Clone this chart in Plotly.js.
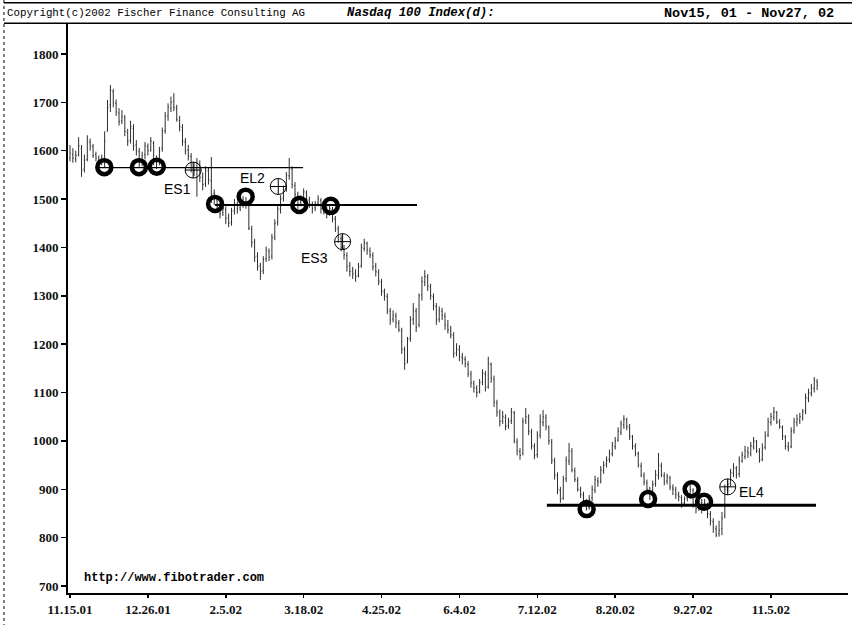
<!DOCTYPE html>
<html>
<head>
<meta charset="utf-8">
<script src="https://cdn.plot.ly/plotly-3.0.1.min.js"></script>
<style>html,body{margin:0;padding:0;background:#fff;}#chart{width:852px;height:625px;}</style>
</head>
<body>
<div id="chart"></div>
<script>
// Tick labels (one every 27 trading days)
const tickIdx = [0, 27, 54, 81, 108, 135, 162, 189, 216, 243];
const tickText = ['11.15.01','12.26.01','2.5.02','3.18.02','4.25.02','6.4.02','7.12.02','8.20.02','9.27.02','11.5.02'];
const yTicks = [700, 800, 900, 1000, 1100, 1200, 1300, 1400, 1500, 1600, 1700, 1800];

// Daily Nasdaq 100 bars, Nov 15 2001 - Nov 27 2002
const openP = [
1585,1592,1583,1592,1605,1562,1582,1618,1608,1592,
1583,1576,1585,1640,1695,1722,1698,1678,1662,1668,
1638,1622,1646,1612,1598,1578,1592,1608,1602,1615,
1582,1578,1605,1642,1672,1688,1702,1688,1662,1648,
1618,1602,1588,1566,1562,1572,1546,1532,1558,1538,
1512,1498,1487,1472,1478,1462,1452,1477,1488,1482,
1498,1488,1492,1438,1412,1382,1362,1352,1377,1392,
1382,1422,1452,1478,1502,1522,1548,1562,1528,1508,
1492,1502,1512,1498,1488,1482,1492,1498,1478,1483,
1472,1478,1458,1438,1418,1398,1383,1362,1352,1347,
1342,1362,1398,1408,1393,1383,1362,1348,1328,1308,
1298,1268,1252,1258,1243,1228,1188,1165,1212,1252,
1268,1240,1302,1328,1338,1318,1298,1278,1252,1268,
1258,1238,1228,1218,1182,1188,1173,1168,1158,1138,
1118,1108,1102,1122,1138,1112,1158,1128,1078,1058,
1042,1048,1032,1042,1058,998,978,975,1042,1048,
1018,988,972,1012,1038,1048,1028,998,958,928,
898,882,922,958,978,938,918,898,888,873,
862,882,898,918,917,938,952,962,973,988,
1002,1018,1033,1043,1028,1008,988,973,948,928,
913,898,892,912,928,948,928,917,923,903,
898,888,883,872,882,888,898,868,862,873,
862,868,848,833,818,808,818,845,898,912,
933,943,932,958,968,978,973,988,998,978,
962,987,1012,1038,1048,1058,1038,1028,1008,988,
988,1022,1038,1043,1048,1062,1088,1098,1108,1122];
const highP = [
1612,1605,1600,1628,1612,1592,1632,1625,1614,1598,
1590,1592,1640,1705,1736,1728,1706,1688,1684,1674,
1645,1662,1655,1622,1606,1598,1618,1615,1628,1620,
1590,1608,1648,1680,1698,1712,1719,1695,1672,1655,
1626,1612,1595,1575,1585,1580,1555,1568,1565,1587,
1520,1505,1492,1490,1485,1470,1482,1500,1495,1512,
1506,1504,1496,1445,1418,1390,1368,1382,1402,1398,
1428,1458,1488,1508,1528,1556,1585,1568,1535,1515,
1508,1522,1518,1505,1495,1496,1508,1502,1492,1490,
1488,1484,1465,1445,1425,1405,1390,1370,1360,1355,
1368,1408,1418,1412,1400,1390,1368,1355,1335,1315,
1305,1275,1270,1265,1250,1234,1195,1215,1258,1285,
1275,1305,1340,1353,1345,1325,1305,1285,1278,1275,
1265,1250,1238,1225,1202,1198,1182,1175,1165,1145,
1125,1115,1128,1148,1145,1174,1162,1135,1085,1065,
1062,1055,1048,1068,1062,1005,985,1048,1068,1055,
1025,995,1020,1055,1064,1055,1032,1004,965,935,
905,928,968,996,985,945,925,905,895,880,
888,908,928,925,948,958,968,982,998,1008,
1028,1042,1053,1048,1035,1012,995,978,955,935,
920,905,918,940,975,955,935,932,928,910,
905,895,888,885,898,910,902,875,882,880,
880,872,855,840,825,835,853,910,918,942,
954,948,968,978,990,988,998,1008,1002,985,
995,1020,1048,1058,1070,1062,1045,1032,1012,998,
1028,1048,1055,1058,1066,1098,1108,1118,1132,1128];
const lowP = [
1578,1575,1576,1588,1546,1555,1578,1600,1585,1578,
1565,1570,1566,1640,1680,1690,1672,1652,1655,1630,
1610,1615,1600,1590,1566,1568,1582,1590,1598,1570,
1562,1570,1598,1635,1662,1680,1682,1660,1640,1610,
1592,1580,1555,1548,1505,1535,1518,1525,1530,1492,
1488,1478,1460,1465,1448,1442,1445,1468,1470,1475,
1482,1480,1436,1400,1370,1352,1333,1345,1370,1372,
1375,1415,1445,1470,1495,1515,1540,1522,1500,1480,
1485,1492,1495,1482,1470,1475,1485,1470,1468,1460,
1465,1452,1432,1410,1392,1375,1350,1340,1335,1329,
1338,1358,1392,1385,1378,1352,1340,1322,1300,1290,
1262,1240,1245,1233,1225,1180,1147,1160,1205,1240,
1225,1235,1290,1320,1310,1292,1270,1240,1245,1250,
1230,1222,1212,1172,1175,1165,1158,1152,1132,1110,
1100,1090,1098,1115,1102,1108,1120,1070,1050,1030,
1035,1022,1025,1035,995,970,961,970,1035,1012,
982,962,965,1005,1030,1022,992,952,920,890,
872,878,915,950,935,915,895,882,868,856,
858,875,892,905,912,932,945,955,968,982,
998,1012,1025,1022,1002,982,968,945,925,908,
892,878,888,905,920,925,908,910,898,888,
880,875,862,866,875,880,862,850,855,850,
855,840,825,810,801,802,805,840,895,905,
925,922,925,955,962,965,968,982,975,955,
958,982,1008,1032,1042,1035,1025,1002,982,978,
985,1015,1030,1035,1042,1055,1080,1092,1100,1105];
const closeP = [
1595,1585,1590,1610,1560,1580,1620,1610,1590,1585,
1575,1580,1620,1690,1725,1700,1680,1660,1670,1640,
1620,1650,1610,1600,1575,1590,1610,1600,1620,1580,
1575,1600,1640,1670,1690,1700,1690,1665,1650,1620,
1600,1590,1565,1560,1575,1545,1530,1560,1540,1510,
1500,1485,1470,1480,1460,1450,1475,1490,1480,1500,
1490,1495,1440,1410,1380,1360,1350,1375,1395,1380,
1420,1450,1480,1500,1520,1550,1565,1530,1510,1490,
1500,1515,1500,1490,1480,1490,1500,1480,1485,1470,
1480,1460,1440,1420,1400,1385,1360,1350,1345,1340,
1360,1400,1410,1395,1385,1360,1350,1330,1310,1300,
1270,1250,1260,1245,1230,1190,1160,1210,1250,1270,
1235,1300,1330,1340,1320,1300,1280,1250,1270,1260,
1240,1230,1220,1180,1190,1175,1170,1160,1140,1120,
1110,1100,1120,1140,1110,1160,1130,1080,1060,1040,
1050,1030,1040,1060,1000,980,970,1040,1050,1020,
990,970,1010,1040,1050,1030,1000,960,930,900,
880,920,960,980,940,920,900,890,875,860,
880,900,920,915,940,950,960,975,990,1000,
1020,1035,1045,1030,1010,990,975,950,930,915,
900,890,910,930,950,930,915,925,905,900,
890,885,870,880,890,900,870,860,875,860,
870,850,835,820,805,815,840,900,910,935,
945,930,960,970,980,975,990,1000,980,960,
985,1010,1040,1050,1060,1040,1030,1010,990,985,
1020,1040,1045,1050,1060,1090,1100,1110,1125,1115];

// Support / resistance levels (bar index from..to, value)
const levelVal  = [1565, 1488, 867];
const levelFrom = [9, 50.3, 165.3];
const levelTo   = [80.8, 120.3, 258.6];

// Bold circles (touch points)
const touchIdx = [11.9, 23.9, 30.1, 50.3, 60.9, 79.5, 90.4, 179.1, 200.4, 215.5, 219.8];
const touchVal = [1566, 1566, 1567, 1490, 1505, 1488, 1486, 859, 880, 900, 874];

// Signal circles and their labels
const sigIdx    = [42.7, 72.2, 94.5, 228.0];
const sigVal    = [1560, 1526, 1412, 905];
const sigLabels = ['ES1', 'EL2', 'ES3', 'EL4'];
const labIdx    = [37.1, 63.4, 84.9, 236.4];
const labVal    = [1521, 1544, 1378, 894];

const barIdx = closeP.map((_, k) => k);

const traces = [];
traces.push({
  type: 'ohlc', x: barIdx, open: openP, high: highP, low: lowP, close: closeP,
  increasing: {line: {color: '#2e2e2e', width: 1}},
  decreasing: {line: {color: '#2e2e2e', width: 1}},
  tickwidth: 0.3, hoverinfo: 'skip', showlegend: false
});
const levelWidths = [1.2, 2, 3];
for (let k = 0; k < levelVal.length; k++) {
  traces.push({
    type: 'scatter', mode: 'lines',
    x: [levelFrom[k], levelTo[k]], y: [levelVal[k], levelVal[k]],
    line: {color: '#000', width: levelWidths[k]}, showlegend: false, hoverinfo: 'skip'
  });
}
traces.push({
  type: 'scatter', mode: 'markers', x: sigIdx, y: sigVal,
  marker: {symbol: 'circle-cross-open', size: 16, color: '#000', line: {color: '#000', width: 1}},
  showlegend: false, hoverinfo: 'skip'
});
traces.push({
  type: 'scatter', mode: 'markers', x: touchIdx, y: touchVal,
  marker: {symbol: 'circle-open', size: 14, color: '#000', line: {color: '#000', width: 4.5}},
  showlegend: false, hoverinfo: 'skip'
});

const annotations = [];
for (let k = 0; k < sigLabels.length; k++) {
  annotations.push({
    x: labIdx[k], y: labVal[k], xref: 'x', yref: 'y', text: sigLabels[k], showarrow: false,
    font: {family: 'Liberation Sans, Arial, sans-serif', size: 14, color: '#000'}
  });
}
annotations.push({
  x: 4.2, y: 716, xref: 'x', yref: 'y', xanchor: 'left', yanchor: 'middle', showarrow: false,
  text: 'http://www.fibotrader.com',
  font: {family: 'Liberation Mono, Courier New, monospace', size: 12, color: '#000', weight: 'bold'}
});
// Header row
annotations.push({
  x: -0.0808, y: 1.0193, xref: 'paper', yref: 'paper', xanchor: 'left', yanchor: 'middle', showarrow: false,
  text: 'Copyright(c)2002 Fischer Finance Consulting AG',
  font: {family: 'Liberation Mono, Courier New, monospace', size: 10.8, color: '#000'}
});
annotations.push({
  x: 0.3551, y: 1.0193, xref: 'paper', yref: 'paper', xanchor: 'left', yanchor: 'middle', showarrow: false,
  text: '<i>Nasdaq 100 Index(d):</i>',
  font: {family: 'Liberation Mono, Courier New, monospace', size: 12.3, color: '#000', weight: 'bold'}
});
annotations.push({
  x: 0.9846, y: 1.0193, xref: 'paper', yref: 'paper', xanchor: 'right', yanchor: 'middle', showarrow: false,
  text: 'Nov15, 01 - Nov27, 02',
  font: {family: 'Liberation Mono, Courier New, monospace', size: 13.5, color: '#000', weight: 'bold'}
});

const shapes = [
  {type: 'line', xref: 'paper', yref: 'paper', x0: -0.0821, x1: 1.0051, y0: 1.0374, y1: 1.0374, line: {color: '#000', width: 1.5}},
  {type: 'line', xref: 'paper', yref: 'paper', x0: -0.0821, x1: 1.0051, y0: 1.0012, y1: 1.0012, line: {color: '#000', width: 1.5}},
  {type: 'line', xref: 'paper', yref: 'paper', x0: -0.0821, x1: -0.0821, y0: 1.0422, y1: -0.0562, line: {color: '#000', width: 1, dash: 'dot'}}
];

const layout = {
  width: 852, height: 625,
  margin: {l: 68, r: 4, t: 24, b: 32, pad: 0},
  paper_bgcolor: '#fff', plot_bgcolor: '#fff',
  showlegend: false,
  xaxis: {
    range: [-0.69, 269.7], tickmode: 'array', tickvals: tickIdx, ticktext: tickText,
    ticks: 'outside', ticklen: 3, tickwidth: 1.5, tickcolor: '#000',
    showline: true, linecolor: '#000', linewidth: 2, showgrid: false, zeroline: false,
    tickfont: {family: 'Liberation Serif, Times New Roman, serif', size: 13, color: '#111', weight: 'bold'},
    rangeslider: {visible: false}, fixedrange: true
  },
  yaxis: {
    range: [685.5, 1862], tickmode: 'array', tickvals: yTicks,
    ticks: 'outside', ticklen: 5, tickwidth: 1.5, tickcolor: '#000',
    showline: true, linecolor: '#000', linewidth: 2, showgrid: false, zeroline: false,
    tickfont: {family: 'Liberation Serif, Times New Roman, serif', size: 13, color: '#111', weight: 'bold'},
    fixedrange: true
  },
  annotations: annotations,
  shapes: shapes
};

Plotly.newPlot('chart', traces, layout, {staticPlot: true, displayModeBar: false});
</script>
</body>
</html>
